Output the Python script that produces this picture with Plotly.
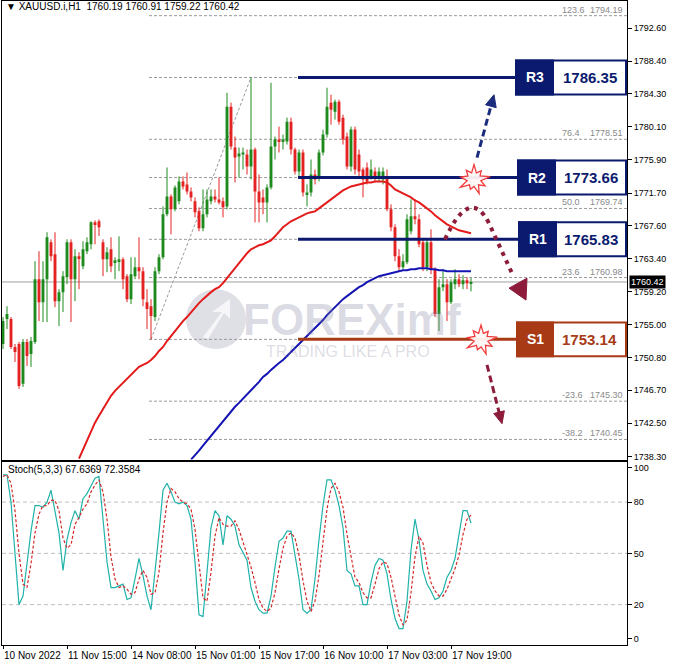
import math
import plotly.graph_objects as go

W, H = 676, 670
FONT = "Liberation Sans"

# ---------------- data ----------------
open_ = [1752.56, 1755.72, 1755.72, 1752.18, 1752.56, 1747.50, 1752.81, 1751.29, 1752.81, 1760.77,
         1757.86, 1760.77, 1765.45, 1763.94, 1757.99, 1759.13, 1761.03, 1765.45, 1760.77, 1763.68,
         1762.42, 1764.32, 1765.20, 1767.98, 1768.11, 1765.45, 1763.30, 1764.57, 1762.92, 1763.05,
         1763.30, 1761.15, 1758.24, 1761.15, 1762.29, 1761.79, 1757.86, 1757.35, 1755.97, 1761.79,
         1763.55, 1769.00, 1771.26, 1769.63, 1770.64, 1773.17, 1772.79, 1771.90, 1770.64, 1769.38,
         1767.23, 1769.00, 1770.64, 1771.26, 1770.89, 1770.64, 1770.00, 1782.65, 1777.46, 1776.33,
         1776.58, 1776.58, 1775.06, 1777.21, 1771.90, 1771.14, 1770.51, 1772.41, 1777.59, 1778.48,
         1778.23, 1778.23, 1780.75, 1777.21, 1774.43, 1776.84, 1771.52, 1771.77, 1774.05, 1773.67,
         1776.84, 1779.11, 1783.16, 1782.02, 1783.28, 1781.26, 1778.86, 1775.06, 1779.74, 1776.58,
         1774.68, 1774.94, 1773.80, 1774.43, 1773.67, 1773.42, 1773.67, 1769.63, 1767.35, 1763.68,
         1762.29, 1762.92, 1766.85, 1768.74, 1768.36, 1765.45, 1762.29, 1765.45, 1762.04, 1756.35,
         1759.76, 1760.14, 1757.86, 1760.14, 1760.77, 1760.14, 1760.64, 1760.19]
high = [1755.97, 1757.35, 1755.97, 1752.56, 1752.81, 1753.19, 1753.19, 1753.44, 1763.05, 1764.32,
        1763.05, 1766.72, 1765.83, 1766.72, 1759.51, 1761.79, 1765.83, 1765.83, 1764.57, 1764.19,
        1765.58, 1766.08, 1768.11, 1768.23, 1768.36, 1765.83, 1764.82, 1766.08, 1763.55, 1766.21,
        1763.55, 1761.41, 1763.55, 1763.55, 1766.08, 1762.29, 1759.51, 1758.24, 1762.29, 1763.94,
        1770.00, 1774.94, 1771.52, 1772.66, 1773.80, 1773.80, 1774.30, 1772.41, 1771.14, 1769.88,
        1772.15, 1772.15, 1772.15, 1772.15, 1773.67, 1771.14, 1784.42, 1783.16, 1778.86, 1777.46,
        1777.46, 1777.21, 1786.35, 1777.46, 1774.05, 1772.15, 1772.79, 1785.68, 1778.86, 1780.12,
        1779.11, 1781.26, 1781.26, 1777.46, 1777.21, 1777.21, 1772.79, 1775.95, 1774.68, 1777.21,
        1779.74, 1785.05, 1784.17, 1783.54, 1783.54, 1781.64, 1779.36, 1780.12, 1780.12, 1777.21,
        1774.94, 1775.57, 1775.95, 1774.94, 1774.94, 1774.94, 1774.68, 1770.26, 1767.73, 1764.57,
        1763.94, 1769.00, 1770.89, 1770.89, 1769.00, 1765.83, 1765.83, 1767.10, 1762.29, 1760.77,
        1762.04, 1760.77, 1760.77, 1762.04, 1761.41, 1761.28, 1761.03, 1760.91]
low = [1751.92, 1754.45, 1751.92, 1750.28, 1746.86, 1747.12, 1749.77, 1749.65, 1752.56, 1755.47,
       1755.34, 1755.34, 1763.05, 1757.23, 1754.83, 1756.60, 1760.14, 1755.34, 1757.99, 1759.51,
       1762.04, 1763.94, 1764.57, 1765.20, 1766.25, 1761.15, 1761.66, 1761.66, 1760.77, 1761.79,
       1759.51, 1757.86, 1757.61, 1760.77, 1760.77, 1757.35, 1754.45, 1753.14, 1755.47, 1761.41,
       1763.30, 1768.74, 1766.46, 1769.38, 1770.26, 1772.15, 1771.52, 1770.64, 1768.61, 1766.85,
       1766.85, 1768.61, 1770.26, 1770.51, 1770.26, 1768.61, 1769.63, 1777.21, 1773.04, 1773.67,
       1774.68, 1774.05, 1773.42, 1767.98, 1767.98, 1769.00, 1767.98, 1772.15, 1775.95, 1776.84,
       1777.21, 1777.85, 1776.58, 1774.05, 1773.80, 1771.26, 1770.00, 1771.26, 1772.79, 1773.17,
       1776.46, 1778.73, 1780.37, 1781.01, 1780.37, 1777.85, 1774.68, 1774.43, 1774.05, 1773.67,
       1771.14, 1772.79, 1773.42, 1773.17, 1773.17, 1772.79, 1769.38, 1766.85, 1763.05, 1761.79,
       1762.04, 1762.67, 1766.46, 1767.73, 1764.82, 1761.79, 1761.79, 1761.41, 1755.97, 1754.20,
       1759.26, 1755.47, 1757.61, 1759.51, 1759.76, 1759.51, 1759.51, 1759.22]
close = [1755.47, 1756.35, 1752.18, 1751.54, 1747.24, 1752.81, 1751.03, 1752.94, 1760.77, 1757.86,
         1760.77, 1766.08, 1763.68, 1757.99, 1759.13, 1761.15, 1765.45, 1760.77, 1763.68, 1763.43,
         1764.57, 1765.45, 1767.98, 1767.73, 1767.35, 1763.30, 1764.19, 1762.42, 1763.17, 1763.30,
         1760.77, 1758.24, 1761.41, 1762.29, 1761.79, 1758.24, 1756.98, 1756.09, 1761.79, 1763.55,
         1769.00, 1771.26, 1769.63, 1772.41, 1773.17, 1772.54, 1771.90, 1771.14, 1769.25, 1767.23,
         1769.00, 1770.89, 1771.26, 1770.89, 1770.51, 1769.88, 1782.65, 1777.59, 1776.20, 1776.71,
         1776.84, 1775.06, 1777.21, 1771.90, 1770.51, 1770.51, 1772.41, 1777.59, 1778.48, 1778.23,
         1778.48, 1780.75, 1777.21, 1774.43, 1776.84, 1771.77, 1771.77, 1774.05, 1773.42, 1776.84,
         1779.11, 1782.65, 1782.27, 1783.28, 1780.75, 1778.48, 1775.06, 1779.74, 1774.68, 1774.43,
         1773.42, 1773.17, 1774.68, 1773.80, 1774.43, 1774.43, 1769.63, 1767.35, 1763.68, 1762.29,
         1763.05, 1768.36, 1768.74, 1768.36, 1765.20, 1762.29, 1765.45, 1762.04, 1756.35, 1759.76,
         1760.14, 1757.86, 1760.39, 1760.77, 1760.14, 1760.64, 1760.27, 1760.42]

ma_red_start = 19
ma_red = [1738.01, 1739.15, 1740.42, 1741.56, 1742.57, 1743.45, 1744.34, 1745.22, 1745.98, 1746.61,
          1747.12, 1747.62, 1748.25, 1748.76, 1749.27, 1749.65, 1749.90, 1750.15, 1750.53, 1751.03,
          1751.67, 1752.18, 1752.93, 1753.57, 1754.20, 1754.83, 1755.46, 1755.97, 1756.60, 1757.23,
          1757.74, 1758.24, 1758.75, 1759.13, 1759.51, 1759.76, 1760.27, 1760.90, 1761.66, 1762.29,
          1762.92, 1763.56, 1764.06, 1764.57, 1764.82, 1765.07, 1765.20, 1765.45, 1765.70, 1766.21,
          1766.84, 1767.35, 1767.73, 1768.11, 1768.36, 1768.61, 1768.87, 1769.12, 1769.25, 1769.37,
          1769.75, 1770.13, 1770.51, 1770.89, 1771.27, 1771.65, 1772.03, 1772.28, 1772.53, 1772.66,
          1772.79, 1772.91, 1773.04, 1773.04, 1773.17, 1773.17, 1773.17, 1773.04, 1772.66, 1772.15,
          1771.90, 1771.65, 1771.40, 1771.14, 1770.76, 1770.51, 1770.13, 1769.75, 1769.37, 1768.87,
          1768.49, 1768.11, 1767.73, 1767.48, 1767.22, 1766.97, 1766.84, 1766.72, 1766.59]
ma_blue_start = 47
ma_blue = [1737.89, 1738.39, 1739.02, 1739.66, 1740.29, 1740.92, 1741.56, 1742.19, 1742.82, 1743.45,
           1743.96, 1744.59, 1745.09, 1745.60, 1746.11, 1746.74, 1747.24, 1747.75, 1748.38, 1748.76,
           1749.27, 1749.77, 1750.15, 1750.53, 1751.03, 1751.54, 1752.05, 1752.56, 1753.06, 1753.57,
           1754.07, 1754.58, 1755.08, 1755.59, 1756.22, 1756.73, 1757.23, 1757.74, 1758.24, 1758.62,
           1759.00, 1759.38, 1759.76, 1760.02, 1760.40, 1760.65, 1760.90, 1761.15, 1761.28, 1761.41,
           1761.53, 1761.66, 1761.79, 1761.91, 1761.91, 1762.04, 1762.04, 1762.17, 1762.17, 1762.17,
           1762.04, 1762.04, 1761.91, 1761.91, 1761.79, 1761.79, 1761.79, 1761.79, 1761.79, 1761.79,
           1761.79]

stoch_k = [96, 96, 80, 50, 20, 25, 45, 63, 78, 78, 77, 80, 87, 75, 62, 40, 58, 68, 75, 70,
           82, 85, 90, 94, 95, 70, 45, 30, 30, 31, 32, 23, 24, 35, 47, 37, 25, 17, 38, 62,
           87, 91, 86, 80, 79, 80, 78, 70, 45, 14, 13, 40, 65, 75, 72, 55, 72, 70, 66, 55,
           50, 46, 30, 22, 17, 15, 15, 25, 42, 57, 59, 63, 63, 50, 35, 17, 15, 17, 35, 58,
           78, 93, 93, 87, 78, 65, 40, 38, 31, 31, 20, 20, 33, 43, 47, 46, 38, 23, 12, 6,
           6, 22, 52, 70, 58, 40, 32, 28, 23, 24, 28, 36, 40, 47, 60, 75, 75, 67.64]
stoch_d = [95, 96, 91, 75, 50, 32, 30, 44, 62, 73, 78, 78, 81, 81, 75, 59, 53, 55, 67, 71,
           76, 79, 86, 90, 93, 86, 70, 48, 35, 30, 31, 29, 26, 27, 35, 40, 36, 26, 27, 39,
           62, 80, 88, 86, 82, 80, 79, 76, 64, 43, 24, 22, 39, 60, 71, 67, 66, 66, 69, 64,
           57, 50, 42, 33, 23, 18, 16, 18, 27, 41, 53, 60, 62, 59, 49, 34, 22, 16, 22, 37,
           57, 76, 88, 91, 86, 77, 61, 48, 36, 33, 27, 24, 24, 32, 41, 45, 44, 36, 24, 14,
           8, 11, 27, 48, 60, 56, 43, 33, 28, 25, 25, 29, 35, 41, 49, 61, 70, 72.36]

date_tick_idx = [0, 16, 32, 48, 64, 80, 96, 112]
date_tick_text = ["10 Nov 2022", "11 Nov 15:00", "14 Nov 08:00", "15 Nov 01:00",
                  "15 Nov 17:00", "16 Nov 10:00", "17 Nov 03:00", "17 Nov 19:00"]
price_ticks = [1792.60, 1788.40, 1784.30, 1780.10, 1775.90, 1771.70, 1767.60,
               1763.40, 1759.20, 1755.00, 1750.80, 1746.70, 1742.50, 1738.30]
stoch_ticks = [100, 80, 50, 20, 0]
stoch_grid = [80, 50, 20]

fib_names = ["123.6", "100.0", "76.4", "61.8", "50.0", "38.2", "23.6", "0.0", "-23.6", "-38.2"]
fib_prices = [1794.19, 1786.35, 1778.51, 1773.66, 1769.74, 1765.83, 1760.98, 1753.14, 1745.30, 1740.45]
fib_label_shown = ["123.6", "76.4", "50.0", "23.6", "-23.6", "-38.2"]
fib_start_idx, fib_end_idx = 37, 62

level_names = ["R3", "R2", "R1", "S1"]
level_values = [1786.35, 1773.66, 1765.83, 1753.14]

title_text = "▼ XAUUSD.i,H1  1760.19 1760.91 1759.22 1760.42"
stoch_text = "Stoch(5,3,3) 67.6369 72.3584"
last_price = close[-1]

# ---------------- style ----------------
UP = "#1f8a1f"
DOWN = "#e42323"
NAVY = "#0b1a6e"
BROWN = "#a83a16"
MAROON = "#8c1c3a"

X_RANGE = [-0.25, 156]
Y_RANGE = [1737.89, 1796.05]


def px(x):
    return x / W


def py(y):
    return 1 - y / H


fig = go.Figure()

idx = list(range(len(close)))

# wicks
for is_up, col in ((True, UP), (False, DOWN)):
    wx, wy = [], []
    for i in idx:
        if (close[i] >= open_[i]) == is_up:
            wx += [i, i, None]
            wy += [low[i], high[i], None]
    fig.add_trace(go.Scatter(x=wx, y=wy, mode="lines", line=dict(color=col, width=1),
                             hoverinfo="skip", showlegend=False, xaxis="x", yaxis="y"))

# bodies
fig.add_trace(go.Bar(
    x=idx,
    y=[max(abs(c - o), 0.12) for o, c in zip(open_, close)],
    base=[min(o, c) for o, c in zip(open_, close)],
    width=0.72,
    marker=dict(color=[UP if c >= o else DOWN for o, c in zip(open_, close)], line=dict(width=0)),
    hoverinfo="skip", showlegend=False, xaxis="x", yaxis="y"))

# moving averages
fig.add_trace(go.Scatter(x=list(range(ma_red_start, ma_red_start + len(ma_red))), y=ma_red,
                         mode="lines", line=dict(color="#e31b1b", width=2),
                         hoverinfo="skip", showlegend=False, xaxis="x", yaxis="y"))
fig.add_trace(go.Scatter(x=list(range(ma_blue_start, ma_blue_start + len(ma_blue))), y=ma_blue,
                         mode="lines", line=dict(color="#1414b4", width=2),
                         hoverinfo="skip", showlegend=False, xaxis="x", yaxis="y"))

# stochastic
fig.add_trace(go.Scatter(x=idx, y=stoch_k, mode="lines", line=dict(color="#20b2aa", width=1.2),
                         hoverinfo="skip", showlegend=False, xaxis="x2", yaxis="y2"))
fig.add_trace(go.Scatter(x=idx, y=stoch_d, mode="lines",
                         line=dict(color="#d42a2a", width=1.2, dash="3px,2px"),
                         hoverinfo="skip", showlegend=False, xaxis="x2", yaxis="y2"))

shapes = []
annotations = []

# watermark
shapes.append(dict(type="circle", xref="paper", yref="paper", layer="below",
                   x0=px(186), x1=px(246), y0=py(350), y1=py(290),
                   fillcolor="rgba(140,140,165,0.28)", line=dict(width=0)))
shapes.append(dict(type="path", xref="paper", yref="paper", layer="below",
                   path=f"M {px(203)},{py(338)} L {px(222)},{py(313)} L {px(212)},{py(313)} "
                        f"L {px(230)},{py(300)} L {px(230)},{py(320)} L {px(224)},{py(314)} "
                        f"L {px(208)},{py(340)} Z",
                   fillcolor="rgba(255,255,255,0.7)", line=dict(width=0)))
annotations.append(dict(xref="paper", yref="paper", x=px(352), y=py(320), xanchor="center", yanchor="middle",
                        text="<b>FOREXimf</b>", showarrow=False,
                        font=dict(family=FONT, size=44, color="rgba(130,130,160,0.28)")))
annotations.append(dict(xref="paper", yref="paper", x=px(348), y=py(353), xanchor="center", yanchor="middle",
                        text="TRADING LIKE A PRO", showarrow=False,
                        font=dict(family=FONT, size=16, color="rgba(140,140,160,0.3)")))

# fibonacci lines
for name, p in zip(fib_names, fib_prices):
    shapes.append(dict(type="line", xref="x", yref="y", layer="below",
                       x0=fib_start_idx - 0.5, x1=X_RANGE[1], y0=p, y1=p,
                       line=dict(color="#9a9a9a", width=1, dash="3px,2px")))
    if name in fib_label_shown:
        annotations.append(dict(xref="paper", yref="y", x=px(560), y=p, yshift=6, xanchor="left",
                                yanchor="middle", text=name, showarrow=False,
                                font=dict(family=FONT, size=9, color="#8a8a8a")))
        annotations.append(dict(xref="paper", yref="y", x=px(625), y=p, yshift=6, xanchor="right",
                                yanchor="middle", text=f"{p:.2f}", showarrow=False,
                                font=dict(family=FONT, size=9, color="#8a8a8a")))
shapes.append(dict(type="line", xref="x", yref="y", layer="below",
                   x0=fib_start_idx, y0=low[fib_start_idx], x1=fib_end_idx, y1=high[fib_end_idx],
                   line=dict(color="#9a9a9a", width=1, dash="3px,2px")))

# current price line
shapes.append(dict(type="line", xref="x", yref="y", layer="below", x0=X_RANGE[0], x1=X_RANGE[1],
                   y0=last_price, y1=last_price, line=dict(color="#a0a0a0", width=1)))

# stoch grid
for g in stoch_grid:
    shapes.append(dict(type="line", xref="x2", yref="y2", layer="below", x0=X_RANGE[0], x1=X_RANGE[1],
                       y0=g, y1=g, line=dict(color="#c0c0c0", width=1, dash="4px,3px")))

# level lines and boxes
box_left = {"R3": 516, "R2": 518, "R1": 519, "S1": 517}
box_split = {"R3": 553, "R2": 555, "R1": 556, "S1": 553}
for name, val in zip(level_names, level_values):
    col = BROWN if name.startswith("S") else NAVY
    shapes.append(dict(type="line", xref="paper", yref="y", x0=px(298), x1=px(box_left[name]),
                       y0=val, y1=val, line=dict(color=col, width=3)))
    shapes.append(dict(type="rect", xref="paper", yref="y", x0=px(box_left[name]), x1=px(626),
                       y0=val - 2.15, y1=val + 2.15, fillcolor="white", line=dict(color=col, width=2)))
    shapes.append(dict(type="rect", xref="paper", yref="y", x0=px(box_left[name]), x1=px(box_split[name]),
                       y0=val - 2.15, y1=val + 2.15, fillcolor=col, line=dict(color=col, width=2)))
    annotations.append(dict(xref="paper", yref="y", x=px((box_left[name] + box_split[name]) / 2), y=val,
                            xanchor="center", yanchor="middle",
                            text=f"<b>{name}</b>", showarrow=False,
                            font=dict(family=FONT, size=14, color="white")))
    annotations.append(dict(xref="paper", yref="y", x=px((box_split[name] + 626) / 2), y=val,
                            xanchor="center", yanchor="middle",
                            text=f"<b>{val:.2f}</b>", showarrow=False,
                            font=dict(family=FONT, size=15, color=col)))


def arrow(p0, tip, color, width=3, head_len=12, head_half=5.5, dash="7px,4px"):
    dx, dy = tip[0] - p0[0], tip[1] - p0[1]
    n = math.hypot(dx, dy)
    ux, uy = dx / n, dy / n
    bx, by = tip[0] - ux * head_len, tip[1] - uy * head_len
    shapes.append(dict(type="line", xref="paper", yref="paper", x0=px(p0[0]), y0=py(p0[1]),
                       x1=px(bx + ux * 2), y1=py(by + uy * 2), line=dict(color=color, width=width, dash=dash)))
    pts = [tip, (bx - uy * head_half, by + ux * head_half), (bx + uy * head_half, by - ux * head_half)]
    shapes.append(dict(type="path", xref="paper", yref="paper",
                       path="M " + " L ".join(f"{px(a)},{py(b)}" for a, b in pts) + " Z",
                       fillcolor=color, line=dict(color=color, width=1)))


def starburst(cx, cy, r_out, r_in, n=9):
    mult = [1.0, 0.75, 1.1, 0.85, 1.0, 0.7, 1.05, 0.9, 0.8]
    pts = []
    for k in range(2 * n):
        a = -math.pi / 2 + k * math.pi / n
        r = r_out * mult[(k // 2) % len(mult)] if k % 2 == 0 else r_in
        pts.append((cx + r * math.cos(a), cy + r * math.sin(a)))
    shapes.append(dict(type="path", xref="paper", yref="paper",
                       path="M " + " L ".join(f"{px(a)},{py(b)}" for a, b in pts) + " Z",
                       fillcolor="rgba(255,245,245,0.95)", line=dict(color="#f03c3c", width=1.3)))


arrow((477, 158), (494, 95), "#1b2c7c")
arrow((487, 366), (502, 425), MAROON)
starburst(474, 180, 15, 7)
starburst(481, 341, 15, 7)

# dotted curved arrow
shapes.append(dict(type="path", xref="paper", yref="paper",
                   path=f"M {px(445)},{py(240)} Q {px(470)},{py(186)} {px(489)},{py(224)} L {px(512)},{py(274)}",
                   line=dict(color=MAROON, width=4, dash="4px,5px")))
shapes.append(dict(type="path", xref="paper", yref="paper",
                   path=f"M {px(509)},{py(289)} L {px(527)},{py(279)} L {px(526)},{py(301)} Z",
                   fillcolor=MAROON, line=dict(color=MAROON, width=1)))

# texts
annotations.append(dict(xref="paper", yref="paper", x=px(4), y=py(7), xanchor="left", yanchor="middle",
                        text=title_text, showarrow=False, font=dict(family=FONT, size=10, color="black")))
annotations.append(dict(xref="paper", yref="paper", x=px(6), y=py(471), xanchor="left", yanchor="middle",
                        text=stoch_text, showarrow=False, font=dict(family=FONT, size=10, color="black")))
annotations.append(dict(xref="paper", yref="y", x=px(629), y=last_price, xanchor="left", yanchor="middle",
                        text=f"{last_price:.2f}", showarrow=False, bgcolor="black", borderpad=1,
                        font=dict(family=FONT, size=9, color="white")))
for i, t in zip(date_tick_idx, date_tick_text):
    annotations.append(dict(xref="x2", yref="paper", x=i - 0.25, y=py(657), xanchor="left", yanchor="middle",
                            text=t, showarrow=False, font=dict(family=FONT, size=10, color="black")))

axis_common = dict(showgrid=False, zeroline=False, showline=True, mirror=True, linecolor="black", linewidth=1)

fig.update_layout(
    width=W, height=H,
    margin=dict(l=0, r=0, t=0, b=0),
    paper_bgcolor="white", plot_bgcolor="white",
    showlegend=False, barmode="overlay",
    xaxis=dict(domain=[px(2), px(627)], range=X_RANGE, anchor="y", showticklabels=False, ticks="",
               **axis_common),
    yaxis=dict(domain=[py(461), py(1)], range=Y_RANGE, anchor="x", side="right",
               tickvals=price_ticks, ticktext=[f"{v:.2f}" for v in price_ticks],
               ticks="outside", ticklen=4, tickcolor="black",
               tickfont=dict(family=FONT, size=9, color="black"), **axis_common),
    xaxis2=dict(domain=[px(2), px(627)], range=X_RANGE, anchor="y2", showticklabels=False,
                tickvals=date_tick_idx, ticks="outside", ticklen=3, tickcolor="black", **axis_common),
    yaxis2=dict(domain=[py(646.7), py(463)], range=[-3.5, 103.7], anchor="x2", side="right",
                tickvals=stoch_ticks, ticktext=[str(v) for v in stoch_ticks],
                ticks="outside", ticklen=4, tickcolor="black",
                tickfont=dict(family=FONT, size=9, color="black"), **axis_common),
    shapes=shapes,
    annotations=annotations,
)

fig.write_html("out.html", config={"displayModeBar": False},
               post_script="document.body.style.margin='0px';")
